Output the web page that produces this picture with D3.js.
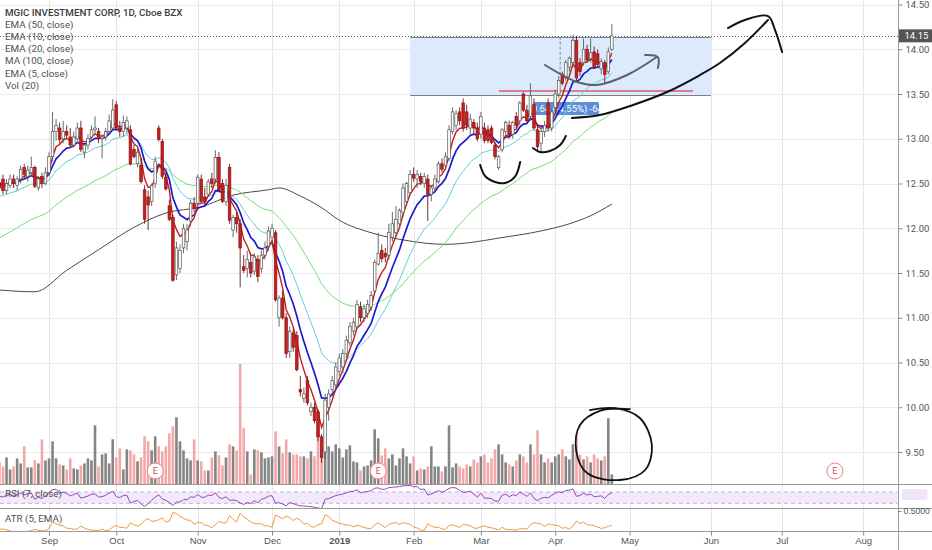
<!DOCTYPE html>
<html><head><meta charset="utf-8">
<script src="https://cdnjs.cloudflare.com/ajax/libs/d3/7.8.5/d3.min.js"></script>
<style>
body{margin:0;background:#fff}
svg{display:block;font-family:Roboto,"Liberation Sans",sans-serif}
</style>
</head><body>
<svg id="c" width="932" height="550"></svg>
<script>
// ---------------- DATA ----------------
const firstDate = "2018-08-14";
const holidays = ["2018-09-03","2018-11-22","2018-12-05","2018-12-25","2019-01-01","2019-01-21","2019-02-18","2019-04-19"];
const futureSlots = 88;

const open = [12.50,12.55,12.42,12.48,12.55,12.48,12.55,12.68,12.58,12.62,12.68,12.45,12.58,12.50,
12.62,12.80,13.08,13.12,13.00,13.08,13.02,12.93,13.00,13.12,12.85,12.93,13.02,13.10,13.08,13.00,13.02,13.08,13.12,
13.38,13.12,13.08,13.12,13.10,12.88,12.72,12.70,12.43,12.35,12.30,12.50,13.12,12.97,12.57,12.25,12.12,11.48,11.55,11.78,11.85,12.08,12.28,
12.28,12.55,12.35,12.38,12.55,12.55,12.79,12.50,12.30,12.68,11.98,12.12,12.05,11.57,11.55,11.62,11.52,11.65,11.55,11.70,11.80,
11.90,11.95,11.00,11.22,11.00,10.62,10.83,10.80,10.20,10.10,10.30,9.95,10.00,9.95,9.67,9.50,10.00,10.20,10.25,
10.40,10.45,10.60,10.72,10.85,10.90,11.12,11.00,11.05,11.12,11.30,11.60,11.75,11.72,11.70,11.90,11.95,12.05,12.18,12.30,12.40,
12.60,12.55,12.58,12.50,12.55,12.38,12.45,12.52,12.72,12.70,12.78,13.08,13.15,13.30,13.40,13.30,13.12,13.18,13.12,
13.05,13.12,13.10,13.12,12.93,12.68,12.88,13.08,13.15,13.05,13.25,13.20,13.50,13.32,13.25,13.38,13.10,12.95,13.08,13.40,13.12,
13.35,13.50,13.72,13.68,13.80,13.85,14.10,13.85,13.85,14.00,13.90,13.97,13.95,13.78,13.85,13.75,14.00];
const high = [12.60,12.60,12.55,12.60,12.60,12.58,12.70,12.72,12.70,12.80,12.70,12.58,12.62,12.68,
12.85,13.30,13.22,13.18,13.20,13.15,13.12,13.08,13.18,13.20,12.95,13.05,13.15,13.25,13.12,13.05,13.12,13.27,13.44,
13.42,13.20,13.26,13.25,13.15,12.93,12.90,12.78,12.48,12.42,12.50,12.80,13.15,13.00,12.62,12.32,12.15,11.85,11.82,12.05,12.05,12.32,12.35,
12.60,12.60,12.45,12.55,12.62,12.87,12.85,12.55,12.55,12.72,12.15,12.18,12.10,11.70,11.75,11.70,11.72,11.70,11.75,11.85,12.02,
12.05,11.98,11.25,11.30,11.05,10.90,10.88,10.85,10.35,10.22,10.35,10.05,10.05,9.98,9.70,10.15,10.20,10.35,10.50,
10.60,10.65,10.80,10.95,11.00,11.20,11.18,11.15,11.20,11.30,11.65,11.95,11.82,11.78,12.05,12.18,12.25,12.22,12.50,12.52,12.65,
12.68,12.65,12.62,12.62,12.60,12.48,12.60,12.75,12.78,12.85,13.15,13.35,13.32,13.35,13.45,13.38,13.28,13.22,13.18,
13.30,13.18,13.15,13.15,12.96,12.82,13.12,13.20,13.20,13.20,13.30,13.42,13.52,13.38,13.62,13.45,13.14,13.12,13.20,13.45,13.35,
13.55,13.70,13.75,13.88,13.92,14.16,14.15,13.90,14.12,14.05,14.12,14.03,14.00,13.90,13.88,14.02,14.28];
const low = [12.40,12.38,12.38,12.45,12.45,12.42,12.50,12.55,12.52,12.58,12.45,12.42,12.45,12.48,
12.58,12.75,12.98,12.95,12.95,13.00,12.90,12.90,12.95,12.85,12.78,12.88,12.98,13.05,12.95,12.78,12.98,13.05,13.10,
13.10,13.02,13.02,13.05,12.70,12.78,12.68,12.50,12.05,11.98,12.25,12.45,12.97,12.55,12.42,12.08,11.40,11.42,11.50,11.72,11.75,12.02,12.18,
12.25,12.28,12.26,12.35,12.45,12.50,12.40,12.28,12.25,12.05,11.90,11.95,11.34,11.50,11.45,11.45,11.48,11.40,11.50,11.65,11.75,
11.85,11.18,10.90,10.98,10.55,10.55,10.62,10.40,10.12,10.05,10.02,9.90,9.82,9.62,9.38,9.42,9.85,10.12,10.20,
10.35,10.38,10.55,10.68,10.80,10.88,10.95,10.95,11.00,11.08,11.28,11.58,11.62,11.62,11.65,11.85,11.90,12.00,12.12,12.25,12.38,
12.52,12.45,12.48,12.45,12.08,12.30,12.40,12.50,12.62,12.65,12.75,13.05,13.10,13.15,13.08,13.10,13.05,13.05,12.97,
13.00,12.95,12.95,12.94,12.77,12.65,12.85,13.05,13.00,13.00,13.12,13.15,13.30,13.18,13.20,13.10,12.85,12.85,13.02,13.08,13.08,
13.30,13.45,13.60,13.65,13.75,13.80,13.65,13.70,13.82,13.85,13.85,13.78,13.80,13.72,13.62,13.72,13.98];
const close = [12.45,12.42,12.50,12.55,12.50,12.55,12.66,12.60,12.65,12.68,12.47,12.55,12.50,12.62,
12.80,13.08,13.15,12.99,13.08,13.04,12.93,13.02,13.12,12.88,12.93,13.00,13.10,13.12,13.00,13.02,13.08,13.20,13.32,
13.12,13.08,13.18,13.20,12.72,12.80,12.85,12.52,12.10,12.26,12.48,12.75,12.99,12.58,12.44,12.10,11.42,11.78,11.75,12.00,11.98,12.28,12.22,
12.57,12.30,12.30,12.52,12.50,12.79,12.43,12.30,12.48,12.09,12.12,12.05,11.78,11.53,11.65,11.50,11.68,11.46,11.70,11.78,11.97,
12.00,11.20,11.22,11.00,10.60,10.85,10.67,10.42,10.17,10.15,10.05,10.00,9.85,9.67,9.44,10.08,10.15,10.30,10.45,
10.55,10.60,10.75,10.90,10.95,11.15,11.00,11.10,11.15,11.25,11.62,11.72,11.66,11.68,11.95,12.05,12.10,12.20,12.45,12.50,12.60,
12.56,12.60,12.52,12.58,12.38,12.45,12.55,12.72,12.66,12.80,13.10,13.30,13.28,13.20,13.12,13.15,13.22,13.12,13.00,
13.25,12.98,12.98,12.96,12.80,12.80,13.10,13.18,13.05,13.18,13.15,13.40,13.32,13.20,13.48,13.12,12.91,13.08,13.15,13.12,13.30,
13.50,13.65,13.62,13.85,13.90,14.10,13.68,13.75,14.00,13.88,13.96,13.80,13.83,13.86,13.72,13.97,14.15];
// volume, millions of shares
const volume = [2.3,1.8,2.7,1.5,1.8,2.6,2.1,3.8,1.7,1.7,2.4,2.1,4.5,2.4,
2.6,4.3,2.6,2.0,1.9,1.5,2.6,1.6,1.5,1.9,2.1,2.6,2.4,5.9,1.8,3.0,3.1,2.1,4.5,
2.7,3.6,1.5,3.5,3.4,3.0,2.3,2.7,4.8,4.3,3.4,4.8,3.8,3.3,3.8,5.1,5.8,6.7,4.3,3.4,2.6,2.4,
4.5,2.4,2.3,1.4,1.4,2.7,3.3,2.9,1.9,2.7,4.0,3.8,3.4,12.0,5.6,3.3,1.0,3.5,3.4,3.2,2.6,
2.7,2.8,5.3,3.8,3.1,4.5,3.2,3.0,3.0,2.8,2.8,2.6,3.3,2.8,5.1,3.6,3.3,3.8,3.3,
4.0,3.6,2.7,3.5,3.9,2.3,2.2,1.4,1.8,1.9,2.4,5.5,4.6,2.9,3.6,2.6,3.0,1.9,2.6,3.6,2.8,
2.1,2.8,1.4,1.6,1.5,1.8,3.8,1.8,1.8,1.3,1.8,5.9,1.7,2.1,1.8,1.6,
2.0,1.8,2.5,2.2,2.8,3.0,2.2,2.6,3.5,4.0,3.0,2.2,2.0,1.8,2.4,3.0,2.8,2.2,4.0,3.0,5.4,3.0,2.2,2.6,2.2,
2.8,3.0,3.5,2.8,2.5,4.0,5.1,3.0,2.5,2.8,2.2,3.0,2.6,2.4,2.8,6.6,1.0];

// indicator seeds read at the left edge of the chart
const ema5Seed = 12.52, ema10Seed = 12.52, ema20Seed = 12.35, ema50Seed = 11.87;
const rsiSeedGain = 0.06, rsiSeedLoss = 0.05, atrSeed = 0.22;

// MA(100)
const ma100Dates = ["2018-08-14","2018-08-28","2018-09-11","2018-09-24","2018-10-08","2018-10-19","2018-11-02","2018-11-15","2018-11-30","2018-12-06","2018-12-14","2018-12-24","2019-01-02","2019-01-15","2019-01-29","2019-02-14","2019-02-26","2019-03-08","2019-03-26","2019-04-05","2019-04-15","2019-04-24"];
const ma100Values = [11.31,11.29,11.53,11.76,12.01,12.17,12.24,12.37,12.43,12.45,12.36,12.23,12.09,11.95,11.87,11.82,11.84,11.89,11.97,12.05,12.14,12.27];

const priceTicks = [9.5,10,10.5,11,11.5,12,12.5,13,13.5,14,14.5];
const monthTickDates = ["2018-09-04","2018-10-01","2018-11-01","2018-12-03","2019-01-02","2019-02-01","2019-03-01","2019-04-01","2019-05-01","2019-06-03","2019-07-01","2019-08-01"];
const monthTickLabels = ["Sep","Oct","Nov","Dec","2019","Feb","Mar","Apr","May","Jun","Jul","Aug"];
const earningsDates = ["2018-10-16","2019-01-17","2019-07-22"];
const lastPrice = 14.15;
const legendLines = ["EMA (50, close)","EMA (10, close)","EMA (20, close)","MA (100, close)","EMA (5, close)","Vol (20)"];

// drawings (index, price)
const boxRange = {i0:116, i1:201, p0:14.14, p1:13.49};
const redLine = {i0:141.1, i1:195.9, p:13.534};
const dashV = {i:158.4, p0:14.14, p1:13.71};
const measureBox = {i0:150.7, i1:169.4, p0:13.41, p1:13.265, text:"-0.64 (-4.55%) -64"};
const blackCurve = [[161.7,13.232],[169.6,13.265],[179.0,13.377],[188.6,13.522],[197.9,13.712],[203.5,13.846],[210.6,14.07],[217.1,14.327]];
const blackHead = [[205.8,14.237],[210.6,14.327],[217.1,14.371],[219.1,14.215],[221.1,13.969]];
const greyCurve = [[154.1,13.824],[163.2,13.634],[168.8,13.601],[177.3,13.712],[185.7,13.913]];
const greyHead = [[182.4,13.936],[186.0,13.913],[186.0,13.79]];
const smile1 = [[135.8,12.707],[137.2,12.584],[140.0,12.517],[142.8,12.506],[145.6,12.573],[147.1,12.74]];
const smile2 = [[150.7,12.897],[152.7,12.852],[155.5,12.863],[158.4,12.93],[160.0,13.031]];
const circleStroke = [[166.8,9.969],[173.9,9.99],[180.9,9.88],[184.3,9.578],[182.4,9.299],[175.3,9.187],[166.0,9.265],[162.9,9.522],[164.0,9.802],[169.6,9.96],[178.1,9.98]];

// ---------------- LAYOUT ----------------
const W = 932, axisX = 898.5;
const mainBot = 484.5, rsiBot = 508.5, atrBot = 531.5;
const step = 3.54, x0 = -0.56;

// dates
const fmt = d3.timeFormat("%Y-%m-%d");
const dates = [];
{
  const d = d3.timeParse("%Y-%m-%d")(firstDate);
  while (dates.length < close.length) {
    const s = fmt(d), wd = d.getDay();
    if (wd !== 0 && wd !== 6 && !holidays.includes(s)) dates.push(s);
    d.setDate(d.getDate() + 1);
  }
  while (dates.length < close.length + futureSlots) {
    const s = fmt(d), wd = d.getDay();
    if (wd !== 0 && wd !== 6) dates.push(s);
    d.setDate(d.getDate() + 1);
  }
}
const x = d3.scalePoint().domain(dates).range([x0, x0 + (dates.length - 1) * step]);
const xi = d3.scaleLinear().domain([0, dates.length - 1]).range([x0, x0 + (dates.length - 1) * step]);
const y = d3.scaleLinear().domain([9.5, 14.5]).range([452, 4.5]);
const yv = d3.scaleLinear().domain([0, 12]).range([mainBot, 364]);
const yr = d3.scaleLinear().domain([30, 70]).range([503.3, 492]);
const ya = d3.scaleLinear().domain([0.2, 0.5]).range([530, 511]);

// indicators
function ema(vals, n, seed) { const k = 2 / (n + 1); let e = seed; return vals.map(v => (e = e + k * (v - e))); }
const ema5 = ema(close, 5, ema5Seed), ema10 = ema(close, 10, ema10Seed), ema20 = ema(close, 20, ema20Seed), ema50 = ema(close, 50, ema50Seed);
const rsi = [];
{ let g = rsiSeedGain, l = rsiSeedLoss;
  close.forEach((c, i) => { if (i > 0) { const ch = c - close[i-1]; g = (g*6 + Math.max(ch,0))/7; l = (l*6 + Math.max(-ch,0))/7; } rsi.push(100 - 100/(1 + g/l)); }); }
const atr = [];
{ let a = atrSeed; const k = 2/6;
  close.forEach((c, i) => { const pc = i > 0 ? close[i-1] : open[0];
    const tr = Math.max(high[i]-low[i], Math.abs(high[i]-pc), Math.abs(low[i]-pc));
    a = a + k*(tr - a); atr.push(a); }); }

// ---------------- DRAW ----------------
const svg = d3.select("#c");
const defs = svg.append("defs");
defs.append("clipPath").attr("id","cm").append("rect").attr("x",0).attr("y",0).attr("width",axisX).attr("height",mainBot);
defs.append("clipPath").attr("id","cr").append("rect").attr("x",0).attr("y",mainBot).attr("width",axisX).attr("height",rsiBot-mainBot);
defs.append("clipPath").attr("id","ca").append("rect").attr("x",0).attr("y",rsiBot).attr("width",axisX).attr("height",atrBot-rsiBot);

svg.append("rect").attr("width",W).attr("height",550).attr("fill","#fff");

// grid
const grid = svg.append("g");
grid.selectAll("line.h").data(priceTicks).join("line")
  .attr("x1",0).attr("x2",axisX).attr("y1",d=>Math.round(y(d))+0.5).attr("y2",d=>Math.round(y(d))+0.5)
  .attr("stroke","#ebebeb");
grid.selectAll("line.v").data(monthTickDates).join("line")
  .attr("x1",d=>Math.round(x(d))+0.5).attr("x2",d=>Math.round(x(d))+0.5).attr("y1",0).attr("y2",atrBot)
  .attr("stroke","#e6e6e6");

const main = svg.append("g").attr("clip-path","url(#cm)");

// rectangle drawing
main.append("rect").attr("x",xi(boxRange.i0)).attr("width",xi(boxRange.i1)-xi(boxRange.i0))
  .attr("y",y(boxRange.p0)).attr("height",y(boxRange.p1)-y(boxRange.p0)).attr("fill","#dcebfb");
[boxRange.p0, boxRange.p1].forEach(p => main.append("line").attr("x1",xi(boxRange.i0)).attr("x2",xi(boxRange.i1))
  .attr("y1",Math.round(y(p))+0.5).attr("y2",Math.round(y(p))+0.5).attr("stroke","#7a7f88").attr("stroke-width",1));
main.append("line").attr("x1",xi(redLine.i0)).attr("x2",xi(redLine.i1)).attr("y1",y(redLine.p)).attr("y2",y(redLine.p))
  .attr("stroke","#e2576a").attr("stroke-width",1.6);
main.append("line").attr("x1",xi(dashV.i)).attr("x2",xi(dashV.i)).attr("y1",y(dashV.p0)).attr("y2",y(dashV.p1))
  .attr("stroke","#888").attr("stroke-dasharray","3,2");
main.append("rect").attr("x",xi(measureBox.i0)).attr("width",xi(measureBox.i1)-xi(measureBox.i0))
  .attr("y",y(measureBox.p0)).attr("height",y(measureBox.p1)-y(measureBox.p0)).attr("rx",2).attr("fill","#5b8fd6");
main.append("text").attr("x",(xi(measureBox.i0)+xi(measureBox.i1))/2).attr("y",(y(measureBox.p0)+y(measureBox.p1))/2+3.3)
  .attr("text-anchor","middle").attr("font-size",9.5).attr("fill","#fff").text(measureBox.text);

// last price dotted line
main.append("line").attr("x1",0).attr("x2",axisX).attr("y1",Math.round(y(lastPrice))+0.5).attr("y2",Math.round(y(lastPrice))+0.5)
  .attr("stroke","#555").attr("stroke-dasharray","1,2");

// volume
const up = i => close[i] >= open[i];
main.append("g").selectAll("rect").data(volume).join("rect")
  .attr("x",(d,i)=>x(dates[i])-1.3).attr("width",2.6)
  .attr("y",d=>yv(d)).attr("height",d=>mainBot-yv(d))
  .attr("fill",(d,i)=>up(i)?"#858585":"#f4a7a7");

// MA / EMA lines
const idx = d3.range(close.length);
const lineOf = arr => d3.line().x(i=>x(dates[i])).y(i=>y(arr[i]))(idx);
main.append("path").attr("d", d3.line().curve(d3.curveMonotoneX).x(d=>x(d[0])).y(d=>y(d[1]))(ma100Dates.map((d,i)=>[d,ma100Values[i]])))
  .attr("fill","none").attr("stroke","#4a4a4a").attr("stroke-width",1);
main.append("path").attr("d",lineOf(ema50)).attr("fill","none").attr("stroke","#6ee06e").attr("stroke-width",1);
main.append("path").attr("d",lineOf(ema20)).attr("fill","none").attr("stroke","#5fd0d6").attr("stroke-width",1);
main.append("path").attr("d",lineOf(ema10)).attr("fill","none").attr("stroke","#1c1ccf").attr("stroke-width",1.7);
main.append("path").attr("d",lineOf(ema5)).attr("fill","none").attr("stroke","#c41f1f").attr("stroke-width",1.4);

// candles
const cg = main.append("g");
idx.forEach(i => {
  const cx = x(dates[i]);
  const u = up(i);
  cg.append("line").attr("x1",cx).attr("x2",cx).attr("y1",y(high[i])).attr("y2",y(low[i]))
    .attr("stroke", u ? "#5a5a5a" : "#6b1a1a").attr("stroke-width",0.9);
  const top = y(Math.max(open[i],close[i])), bot = y(Math.min(open[i],close[i]));
  cg.append("rect").attr("x",cx-1.3).attr("width",2.6).attr("y",top).attr("height",Math.max(1,bot-top))
    .attr("fill", u ? "#ffffff" : "#c81e1e").attr("stroke", u ? "#555" : "#8f1414").attr("stroke-width",0.7);
});

// hand drawings
const free = d3.line().curve(d3.curveCatmullRom).x(d=>xi(d[0])).y(d=>y(d[1]));
const drawG = svg.append("g").attr("fill","none").attr("stroke-linecap","round").attr("stroke-linejoin","round");
drawG.append("path").attr("d",free(greyCurve)).attr("stroke","#5c6068").attr("stroke-width",2);
drawG.append("path").attr("d",free(greyHead)).attr("stroke","#5c6068").attr("stroke-width",2);
drawG.append("path").attr("d",free(blackCurve)).attr("stroke","#111").attr("stroke-width",2);
drawG.append("path").attr("d",free(blackHead)).attr("stroke","#111").attr("stroke-width",2);
drawG.append("path").attr("d",free(smile1)).attr("stroke","#111").attr("stroke-width",2);
drawG.append("path").attr("d",free(smile2)).attr("stroke","#111").attr("stroke-width",2);
drawG.append("path").attr("d",free(circleStroke)).attr("stroke","#111").attr("stroke-width",1.8);

// earnings markers
const eg = svg.append("g");
earningsDates.forEach(d => {
  eg.append("circle").attr("cx",x(d)).attr("cy",471).attr("r",8).attr("fill","#fff").attr("stroke","#ef7d8f").attr("stroke-width",1);
  eg.append("text").attr("x",x(d)).attr("y",474.3).attr("text-anchor","middle").attr("font-size",9).attr("fill","#e0465f").text("E");
});

// RSI pane
const rg = svg.append("g").attr("clip-path","url(#cr)");
rg.append("rect").attr("x",0).attr("width",axisX-1).attr("y",yr(70)).attr("height",yr(30)-yr(70)).attr("fill","#f3e9fc");
[70,30].forEach(v => rg.append("line").attr("x1",0).attr("x2",axisX-1).attr("y1",yr(v)).attr("y2",yr(v))
  .attr("stroke","#c2b3d2").attr("stroke-dasharray","4,3"));
rg.append("path").attr("d",d3.line().x(i=>x(dates[i])).y(i=>yr(rsi[i]))(idx)).attr("fill","none").attr("stroke","#9547b8").attr("stroke-width",1);

// ATR pane
const ag = svg.append("g").attr("clip-path","url(#ca)");
ag.append("path").attr("d",d3.line().x(i=>x(dates[i])).y(i=>ya(atr[i]))(idx)).attr("fill","none").attr("stroke","#f4973a").attr("stroke-width",1);

// separators & axis line
[mainBot, rsiBot, atrBot].forEach(v => svg.append("line").attr("x1",0).attr("x2",W).attr("y1",v).attr("y2",v).attr("stroke","#9a9a9a"));
svg.append("line").attr("x1",axisX).attr("x2",axisX).attr("y1",0).attr("y2",550).attr("stroke","#9a9a9a");

// price axis
const ya1 = svg.append("g").attr("transform",`translate(${axisX},0)`)
  .call(d3.axisRight(y).tickValues(priceTicks).tickFormat(d3.format(".2f")).tickSize(4).tickPadding(3));
ya1.select(".domain").remove();
ya1.selectAll("line").attr("stroke","#888");
ya1.selectAll("text").attr("font-size",9.5).attr("fill","#555").attr("font-family","Roboto,sans-serif");

// last price label
svg.append("rect").attr("x",axisX+0.5).attr("y",y(lastPrice)-6.5).attr("width",W-axisX).attr("height",13).attr("fill","#555");
svg.append("text").attr("x",axisX+6).attr("y",y(lastPrice)+3.5).attr("font-size",9.5).attr("fill","#fff").text(d3.format(".2f")(lastPrice));

// RSI value pill (faint)
svg.append("rect").attr("x",axisX+3).attr("y",489).attr("width",26).attr("height",11).attr("rx",3).attr("fill","#efe4fa");

// ATR axis
const ya2 = svg.append("g").attr("transform",`translate(${axisX},0)`)
  .call(d3.axisRight(ya).tickValues([0.5]).tickFormat(d3.format(".4f")).tickSize(3).tickPadding(2));
ya2.select(".domain").remove();
ya2.selectAll("line").attr("stroke","#888");
ya2.selectAll("text").attr("font-size",8.6).attr("fill","#555");

// time axis
const xa = svg.append("g").attr("transform",`translate(0,${atrBot})`)
  .call(d3.axisBottom(x).tickValues(monthTickDates).tickFormat((d,i)=>monthTickLabels[i]).tickSize(4).tickPadding(2));
xa.select(".domain").remove();
xa.selectAll("line").attr("stroke","#888");
xa.selectAll("text").attr("font-size",9.5).attr("fill","#555").attr("font-weight",(d,i)=>monthTickLabels[i]==="2019"?"bold":"normal");

// legend
const lg = svg.append("g").attr("font-size",9.8).attr("fill","#505050");
lg.append("text").attr("x",5).attr("y",15.5).attr("fill","#3c3c3c").attr("font-weight",500).text("MGIC INVESTMENT CORP, 1D, Cboe BZX");
legendLines.forEach((t,i) => lg.append("text").attr("x",5).attr("y",27.8+i*12.2).text(t));
lg.append("text").attr("x",5).attr("y",496.5).text("RSI (7, close)");
lg.append("text").attr("x",5).attr("y",522).text("ATR (5, EMA)");
</script>
</body></html>
